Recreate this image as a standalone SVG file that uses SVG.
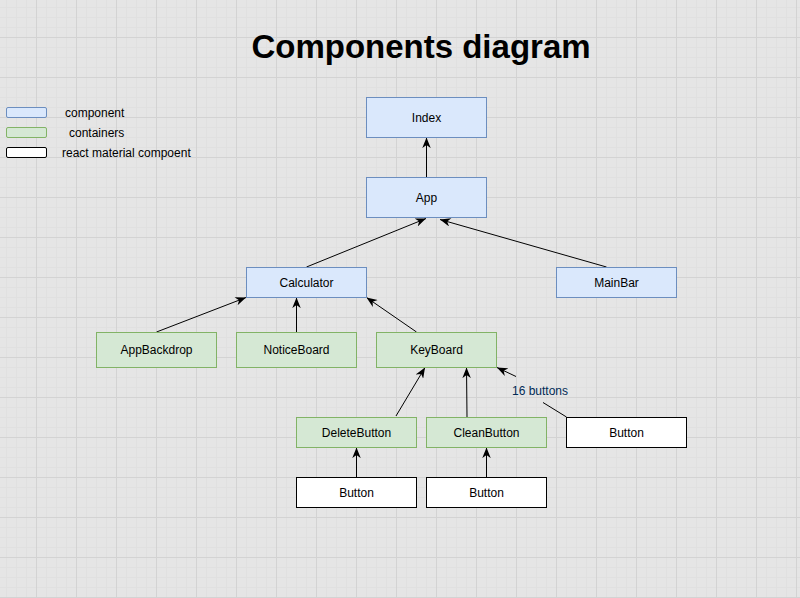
<svg xmlns="http://www.w3.org/2000/svg" width="800" height="598" viewBox="0 0 800 598">
<defs>
<pattern id="grid" x="-4" y="-3" width="40" height="40" patternUnits="userSpaceOnUse">
<path d="M10.5 0V40M20.5 0V40M30.5 0V40M0 10.5H40M0 20.5H40M0 30.5H40" stroke="#e0e0e0" stroke-width="1" fill="none"/>
<path d="M0.5 0V40M0 0.5H40" stroke="#d3d3d3" stroke-width="1" fill="none"/>
</pattern>
<marker id="arr" viewBox="0 0 10 8" refX="10" refY="4" markerWidth="11" markerHeight="8.5" markerUnits="userSpaceOnUse" orient="auto">
<path d="M0,0 L10,4 L0,8 L3,4 Z" fill="#000"/>
</marker>
</defs>
<style>
text{font-family:"Liberation Sans",Arial,sans-serif;font-size:12px;fill:#000}
.t{text-anchor:middle;dominant-baseline:central}
.blue{fill:#dae8fc;stroke:#6c8ebf;stroke-width:1}
.green{fill:#d5e8d4;stroke:#82b366;stroke-width:1}
.white{fill:#ffffff;stroke:#000000;stroke-width:1}
.e{stroke:#000;stroke-width:1;fill:none}
.ea{stroke:#000;stroke-width:1;fill:none;marker-end:url(#arr)}
</style>
<rect width="800" height="598" fill="#e5e5e5"/>
<rect width="800" height="598" fill="url(#grid)"/>

<text x="421" y="57.5" style="font-size:33px;font-weight:bold;text-anchor:middle">Components diagram</text>

<g id="legend">
<rect class="blue" x="6.5" y="107.5" width="40" height="10" rx="1.5"/>
<text x="65" y="117">component</text>
<rect class="green" x="6.5" y="127.5" width="40" height="10" rx="1.5"/>
<text x="69" y="137">containers</text>
<rect class="white" x="6.5" y="147.5" width="40" height="10" rx="1.5"/>
<text x="62" y="157">react material compoent</text>
</g>

<g id="connectors">
<line class="ea" x1="426.5" y1="177" x2="426.5" y2="137.5"/>
<line class="ea" x1="306.5" y1="267" x2="426" y2="218.5"/>
<line class="ea" x1="606.5" y1="267" x2="440" y2="219.5"/>
<line class="ea" x1="156.5" y1="332" x2="246" y2="297.5"/>
<line class="ea" x1="296.5" y1="332" x2="296.5" y2="297.5"/>
<line class="ea" x1="416.5" y1="332" x2="366.5" y2="297.5"/>
<line class="ea" x1="396" y1="416" x2="425" y2="367.5"/>
<line class="ea" x1="467" y1="417" x2="466.5" y2="367.5"/>
<line class="ea" x1="516" y1="376.5" x2="497" y2="367.5"/>
<line class="e" x1="543" y1="402.5" x2="566.5" y2="417"/>
<text x="540" y="395" style="text-anchor:middle;fill:#002a55">16 buttons</text>
<line class="ea" x1="356.5" y1="477" x2="356.5" y2="447.5"/>
<line class="ea" x1="486.5" y1="477" x2="486.5" y2="447.5"/>
</g>

<g id="index"><rect class="blue" x="366.5" y="97.5" width="120" height="40"/><text class="t" x="426.5" y="117.5">Index</text></g>
<g id="app"><rect class="blue" x="366.5" y="177.5" width="120" height="40"/><text class="t" x="426.5" y="197.5">App</text></g>
<g id="calculator"><rect class="blue" x="246.5" y="267.5" width="120" height="30"/><text class="t" x="306.5" y="282.5">Calculator</text></g>
<g id="mainbar"><rect class="blue" x="556.5" y="267.5" width="120" height="30"/><text class="t" x="616.5" y="282.5">MainBar</text></g>
<g id="appbackdrop"><rect class="green" x="96.5" y="332.5" width="120" height="35"/><text class="t" x="156.5" y="350">AppBackdrop</text></g>
<g id="noticeboard"><rect class="green" x="236.5" y="332.5" width="120" height="35"/><text class="t" x="296.5" y="350">NoticeBoard</text></g>
<g id="keyboard"><rect class="green" x="376.5" y="332.5" width="120" height="35"/><text class="t" x="436.5" y="350">KeyBoard</text></g>
<g id="deletebutton"><rect class="green" x="296.5" y="417.5" width="120" height="30"/><text class="t" x="356.5" y="432.5">DeleteButton</text></g>
<g id="cleanbutton"><rect class="green" x="426.5" y="417.5" width="120" height="30"/><text class="t" x="486.5" y="432.5">CleanButton</text></g>
<g id="button16"><rect class="white" x="566.5" y="417.5" width="120" height="30"/><text class="t" x="626.5" y="432.5">Button</text></g>
<g id="button-delete"><rect class="white" x="296.5" y="477.5" width="120" height="30"/><text class="t" x="356.5" y="492.5">Button</text></g>
<g id="button-clean"><rect class="white" x="426.5" y="477.5" width="120" height="30"/><text class="t" x="486.5" y="492.5">Button</text></g>
</svg>
